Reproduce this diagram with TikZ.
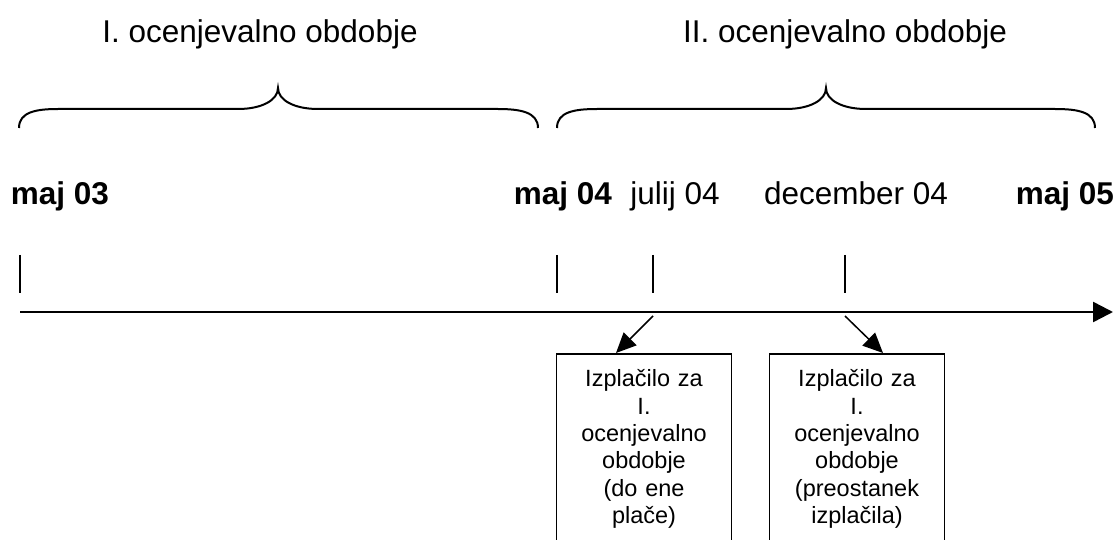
\documentclass[tikz,border=0pt]{standalone}
\usepackage{fontspec}
\setmainfont{Liberation Sans}
\usetikzlibrary{arrows.meta}
\begin{document}
\begin{tikzpicture}[x=1pt,y=-1pt,
  lbl/.style={font=\fontsize{31.5}{36}\selectfont, anchor=base, inner sep=0pt},
  blbl/.style={lbl, font=\fontsize{31.5}{36}\selectfont\bfseries},
  brace/.style={line width=2pt},
  tickline/.style={line width=1.5pt},
  axis/.style={line width=2.5pt, -{Triangle[length=20pt,width=20pt]}},
  conn/.style={line width=1.5pt, -{Triangle[length=20pt,width=18pt]}},
  box/.style={draw, line width=1.5pt, anchor=north, align=center, text width=175pt,
    inner xsep=0pt, inner ysep=16pt, font=\fontsize{23.5}{27.3}\selectfont}]
\useasboundingbox (0,0) rectangle (1117,540);
% titles
\node[lbl] (t1) at (260,43) {I. ocenjevalno obdobje};
\node[lbl] (t2) at (845,43) {II. ocenjevalno obdobje};
% braces
\draw[brace] (19,128) .. controls (19,112) and (36,109) .. (58,109) -- (238,109)
  .. controls (262,109) and (278,100) .. (278,88)
  .. controls (278,100) and (294,109) .. (318,109) -- (498,109)
  .. controls (520,109) and (538,112) .. (538,128);
\draw[brace] (557,128) .. controls (557,112) and (574,109) .. (597,109) -- (786,109)
  .. controls (810,109) and (826,100) .. (826,88)
  .. controls (826,100) and (842,109) .. (866,109) -- (1055,109)
  .. controls (1078,109) and (1095,112) .. (1095,128);
% date labels
\node[blbl] (m03) at (60,205) {maj 03};
\node[blbl] (m04) at (563,205) {maj 04};
\node[lbl] (j04) at (675,205) {julij 04};
\node[lbl] (d04) at (856,205) {december 04};
\node[blbl] (m05) at (1065,205) {maj 05};
% ticks
\coordinate (k1t) at (20,255);  \coordinate (k1b) at (20,293);
\coordinate (k2t) at (557,255); \coordinate (k2b) at (557,293);
\coordinate (k3t) at (653,255); \coordinate (k3b) at (653,293);
\coordinate (k4t) at (845,255); \coordinate (k4b) at (845,293);
\draw[tickline] (k1t) -- (k1b);
\draw[tickline] (k2t) -- (k2b);
\draw[tickline] (k3t) -- (k3b);
\draw[tickline] (k4t) -- (k4b);
% axis
\coordinate (a0) at (20,312);
\coordinate (a1) at (1113,312);
\draw[axis] (a0) -- (a1);
% boxes
\node[box] (b1) at (644,353) {Izplačilo za\\I.\\ocenjevalno\\obdobje\\(do ene\\plače)};
\node[box] (b2) at (857,353) {Izplačilo za\\I.\\ocenjevalno\\obdobje\\(preostanek\\izplačila)};
% connectors
\coordinate (s1) at (653,316);
\coordinate (s2) at (845,316);
\draw[conn] (s1) -- ([xshift=-28pt]b1.north);
\draw[conn] (s2) -- ([xshift=26pt]b2.north);
\end{tikzpicture}
\end{document}
